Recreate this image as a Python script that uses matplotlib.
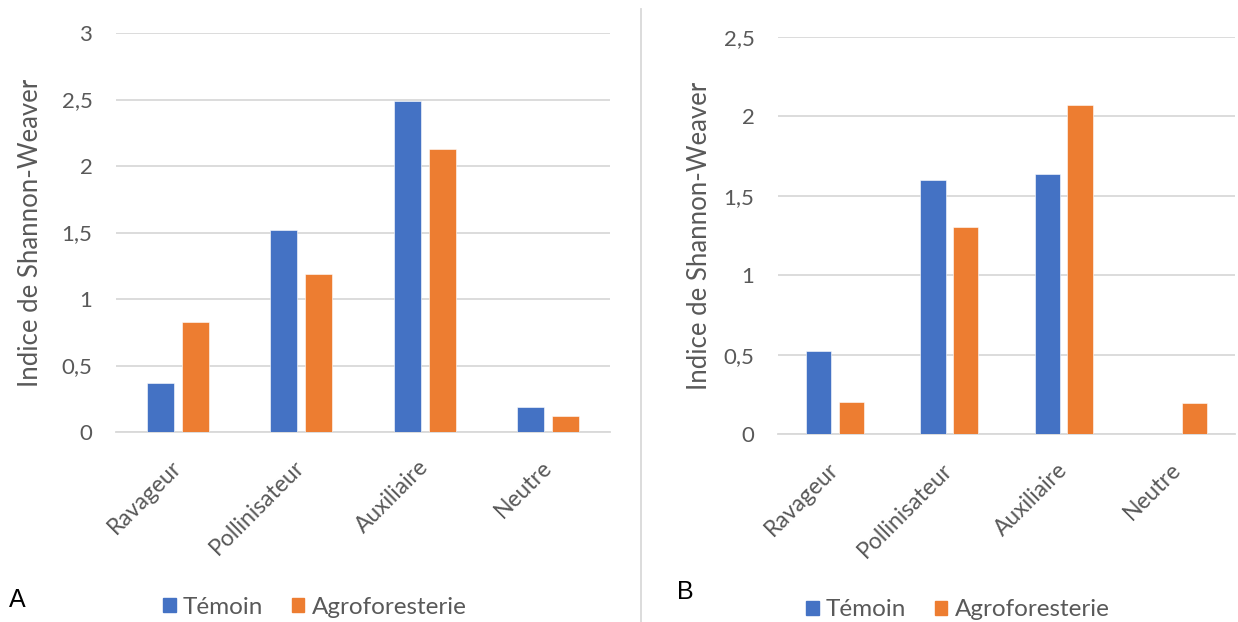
import numpy as np
import matplotlib
matplotlib.use('Agg')
import matplotlib.pyplot as plt
from matplotlib.ticker import FuncFormatter
from matplotlib.patches import Patch
from matplotlib.lines import Line2D

plt.rcParams['font.family'] = ['Lato', 'DejaVu Sans']

categories = ['Ravageur', 'Pollinisateur', 'Auxiliaire', 'Neutre']
series = ['Témoin', 'Agroforesterie']

# panel A
temoin_a = [0.37, 1.52, 2.49, 0.19]
agro_a = [0.83, 1.19, 2.13, 0.12]
# panel B
temoin_b = [0.525, 1.60, 1.635, 0.0]
agro_b = [0.205, 1.305, 2.075, 0.20]

blue = '#4472C4'
orange = '#ED7D31'
grey_txt = '#595959'
grid_c = '#D9D9D9'

W, H = 1238, 622
fig = plt.figure(figsize=(W / 100, H / 100), dpi=100)


def px_axes(x0, x1, y_top, y_bot):
    return fig.add_axes([x0 / W, 1 - y_bot / H, (x1 - x0) / W, (y_bot - y_top) / H])


def draw(ax, t, a, ymax):
    x = np.arange(len(categories))
    w = 0.22
    off = 0.143
    ax.bar(x - off, t, w, color=blue, edgecolor='white', linewidth=0.4, zorder=3)
    ax.bar(x + off, a, w, color=orange, edgecolor='white', linewidth=0.4, zorder=3)
    ax.set_xlim(-0.5, len(categories) - 0.5)
    ax.set_ylim(0, ymax)
    ax.set_yticks(np.arange(0, ymax + 0.01, 0.5))
    ax.yaxis.set_major_formatter(FuncFormatter(lambda v, p: ('%g' % v).replace('.', ',')))
    ax.grid(axis='y', color=grid_c, linewidth=1.3, zorder=0)
    for s in ['top', 'right', 'left']:
        ax.spines[s].set_visible(False)
    ax.spines['bottom'].set_color(grid_c)
    ax.spines['bottom'].set_linewidth(1.3)
    ax.tick_params(axis='y', length=0, pad=17, labelsize=16, labelcolor=grey_txt)
    ax.tick_params(axis='x', length=0, pad=23, labelsize=16.5, labelcolor=grey_txt)
    ax.set_xticks(x)
    ax.set_xticklabels(categories, rotation=45, ha='right', va='center', rotation_mode='anchor')
    ax.set_ylabel('Indice de Shannon-Weaver', fontsize=18.5, color=grey_txt)
    ax.set_facecolor('none')


ax1 = px_axes(116, 610, 33, 432)
draw(ax1, temoin_a, agro_a, 3)
ax1.yaxis.set_label_coords(-0.148, 0.5)

ax2 = px_axes(778, 1235, 37, 434.3)
draw(ax2, temoin_b, agro_b, 2.5)
ax2.yaxis.set_label_coords(-0.144, 0.5)

handles = [Patch(color=blue), Patch(color=orange)]
for cx, cy in [(315, 607), (958, 610)]:
    fig.legend(handles, series, loc='center', bbox_to_anchor=(cx / W, 1 - cy / H),
               ncol=2, frameon=False, fontsize=17.5, labelcolor=grey_txt,
               handlelength=0.5, handleheight=0.5, handletextpad=0.3,
               columnspacing=1.2, borderaxespad=0)

# separator between the two panels
fig.add_artist(Line2D([641 / W, 641 / W], [0, 1 - 9 / H], color=grid_c, linewidth=1.3))

fig.text(17 / W, 1 - 600 / H, 'A', fontsize=18, ha='center', va='center', family='Liberation Sans')
fig.text(685 / W, 1 - 592 / H, 'B', fontsize=18, ha='center', va='center', family='Liberation Sans')

fig.savefig('out.png', dpi=100)
